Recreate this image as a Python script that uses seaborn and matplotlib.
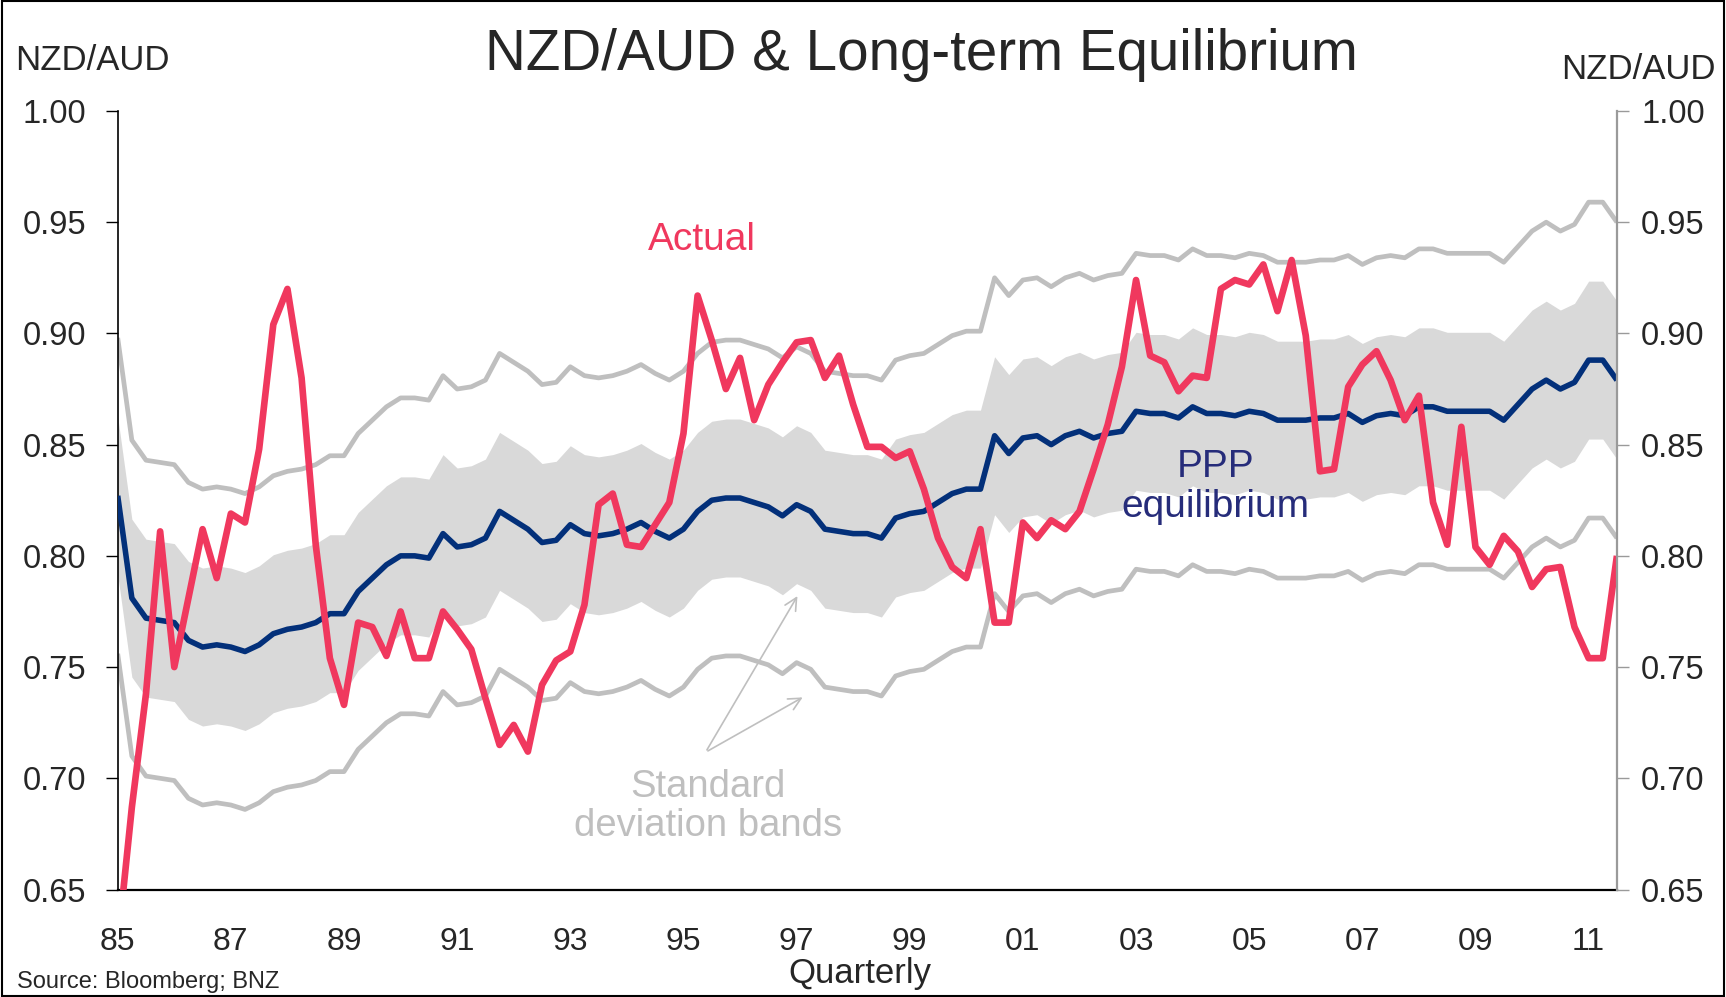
import numpy as np
import pandas as pd
import matplotlib
matplotlib.use("Agg")
import matplotlib.pyplot as plt
from matplotlib.patches import Rectangle
import seaborn as sns

# Quarterly NZD/AUD, 1985Q1 - 2011Q3
start_year = 1985
actual = [
    0.625, 0.687, 0.738, 0.811, 0.750, 0.781, 0.812, 0.790, 0.819, 0.815,
    0.848, 0.904, 0.920, 0.880, 0.805, 0.754, 0.733, 0.770, 0.768, 0.755,
    0.775, 0.754, 0.754, 0.775, 0.767, 0.758, 0.736, 0.715, 0.724, 0.712,
    0.742, 0.753, 0.757, 0.778, 0.823, 0.828, 0.805, 0.804, 0.814, 0.824,
    0.855, 0.917, 0.897, 0.875, 0.889, 0.861, 0.877, 0.887, 0.896, 0.897,
    0.880, 0.890, 0.868, 0.849, 0.849, 0.844, 0.847, 0.830, 0.808, 0.795,
    0.790, 0.812, 0.770, 0.770, 0.815, 0.808, 0.816, 0.812, 0.820, 0.839,
    0.859, 0.885, 0.924, 0.890, 0.887, 0.874, 0.881, 0.880, 0.920, 0.924,
    0.922, 0.931, 0.910, 0.933, 0.899, 0.838, 0.839, 0.876, 0.886, 0.892,
    0.879, 0.861, 0.872, 0.824, 0.805, 0.858, 0.804, 0.796, 0.809, 0.802,
    0.786, 0.794, 0.795, 0.768, 0.754, 0.754, 0.800,
]
ppp = [
    0.827, 0.781, 0.772, 0.771, 0.770, 0.762, 0.759, 0.760, 0.759, 0.757,
    0.760, 0.765, 0.767, 0.768, 0.770, 0.774, 0.774, 0.784, 0.790, 0.796,
    0.800, 0.800, 0.799, 0.810, 0.804, 0.805, 0.808, 0.820, 0.816, 0.812,
    0.806, 0.807, 0.814, 0.810, 0.809, 0.810, 0.812, 0.815, 0.811, 0.808,
    0.812, 0.820, 0.825, 0.826, 0.826, 0.824, 0.822, 0.818, 0.823, 0.820,
    0.812, 0.811, 0.810, 0.810, 0.808, 0.817, 0.819, 0.820, 0.824, 0.828,
    0.830, 0.830, 0.854, 0.846, 0.853, 0.854, 0.850, 0.854, 0.856, 0.853,
    0.855, 0.856, 0.865, 0.864, 0.864, 0.862, 0.867, 0.864, 0.864, 0.863,
    0.865, 0.864, 0.861, 0.861, 0.861, 0.862, 0.862, 0.864, 0.860, 0.863,
    0.864, 0.863, 0.867, 0.867, 0.865, 0.865, 0.865, 0.865, 0.861, 0.868,
    0.875, 0.879, 0.875, 0.878, 0.888, 0.888, 0.879,
]
# one standard deviation of the actual rate around PPP
sd = 0.0355

year_ticks = list(range(1985, 2012, 2))
year_labels = [f"{y % 100:02d}" for y in year_ticks]
y_ticks = [0.65, 0.70, 0.75, 0.80, 0.85, 0.90, 0.95, 1.00]

df = pd.DataFrame({
    "year": start_year + np.arange(len(actual)) / 4,
    "actual": actual,
    "ppp": ppp,
})
df["sd1_lo"] = df["ppp"] - sd
df["sd1_hi"] = df["ppp"] + sd
df["sd2_lo"] = df["ppp"] - 2 * sd
df["sd2_hi"] = df["ppp"] + 2 * sd

RED = "#F0385E"
NAVY = "#03307A"
NAVY_TXT = "#262C7A"
GREY = "#BFBFBF"
BAND = "#D9D9D9"

sns.set_style("white")
plt.rcParams["font.family"] = ["Liberation Sans", "DejaVu Sans"]

fig = plt.figure(figsize=(17.26, 9.97), dpi=100)
ax = fig.add_axes([0.0682, 0.1078, 0.8686, 0.7809])

ax.fill_between(df["year"], df["sd1_lo"], df["sd1_hi"], color=BAND, lw=0, zorder=1)

# (column, colour, line width in points, z-order)
series_styles = [
    ("sd2_hi", GREY, 3.4, 2),
    ("sd2_lo", GREY, 3.4, 2),
    ("ppp", NAVY, 4.0, 3),
    ("actual", RED, 4.8, 4),
]
for col, colour, width, z in series_styles:
    n_before = len(ax.lines)
    sns.lineplot(data=df, x="year", y=col, ax=ax, color=colour, zorder=z)
    for ln in ax.lines[n_before:]:
        ln.set_linewidth(width)
        ln.set_solid_joinstyle("round")
        ln.set_solid_capstyle("butt")

ax.set_xlim(df["year"].iloc[0], df["year"].iloc[-1])
ax.set_ylim(0.65, 1.00)
ax.set_xlabel("")
ax.set_ylabel("")
ax.set_xticks(year_ticks)
ax.set_xticklabels(year_labels)
ax.set_yticks(y_ticks)
ax.set_yticklabels([f"{v:.2f}" for v in y_ticks])
ax.tick_params(axis="x", length=0, pad=27, labelsize=23)
ax.tick_params(axis="y", direction="out", length=8.5, width=1, color="black",
               pad=14, labelsize=23.5, left=True)
for s in ["top", "right"]:
    ax.spines[s].set_visible(False)
ax.spines["left"].set_color("black")
ax.spines["left"].set_linewidth(1.2)
ax.spines["bottom"].set_color("black")
ax.spines["bottom"].set_linewidth(1.6)

ax2 = ax.twinx()
ax2.set_ylim(0.65, 1.00)
ax2.set_yticks(y_ticks)
ax2.set_yticklabels([f"{v:.2f}" for v in y_ticks])
ax2.tick_params(axis="y", direction="out", length=8.5, width=1, color="#9A9A9A",
                pad=9, labelsize=23.5)
for s in ["top", "left", "bottom"]:
    ax2.spines[s].set_visible(False)
ax2.spines["right"].set_color("#9A9A9A")
ax2.spines["right"].set_linewidth(1.6)
ax2.grid(False)

# series annotations
ax.text(1995.32, 0.942, "Actual", color=RED, fontsize=28, ha="center", va="center")
ax.text(2004.41, 0.831, "PPP\nequilibrium", color=NAVY_TXT, fontsize=28,
        ha="center", va="center", linespacing=1.15)
ax.text(1995.44, 0.6875, "Standard\ndeviation bands", color=GREY, fontsize=27.5,
        ha="center", va="center", linespacing=1.1)
for tip in [(1997.04, 0.783), (1997.15, 0.737)]:
    ax.annotate("", xy=tip, xytext=(1995.39, 0.7117),
                arrowprops=dict(arrowstyle="->", color=GREY, lw=1.2,
                                mutation_scale=22), zorder=5)

fig.text(0.534, 0.945, "NZD/AUD & Long-term Equilibrium", fontsize=40.7,
         ha="center", va="center")
fig.text(0.0088, 0.939, "NZD/AUD", fontsize=25, ha="left", va="center")
fig.text(0.9942, 0.930, "NZD/AUD", fontsize=25, ha="right", va="center")
fig.text(0.498, 0.024, "Quarterly", fontsize=25, ha="center", va="center")
fig.text(0.0096, 0.015, "Source: Bloomberg; BNZ", fontsize=17, ha="left", va="center")

fig.patches.append(Rectangle((0.001, 0.001), 0.998, 0.998, transform=fig.transFigure,
                             fill=False, edgecolor="black", lw=1.5))

fig.savefig("out.png", dpi=100)
